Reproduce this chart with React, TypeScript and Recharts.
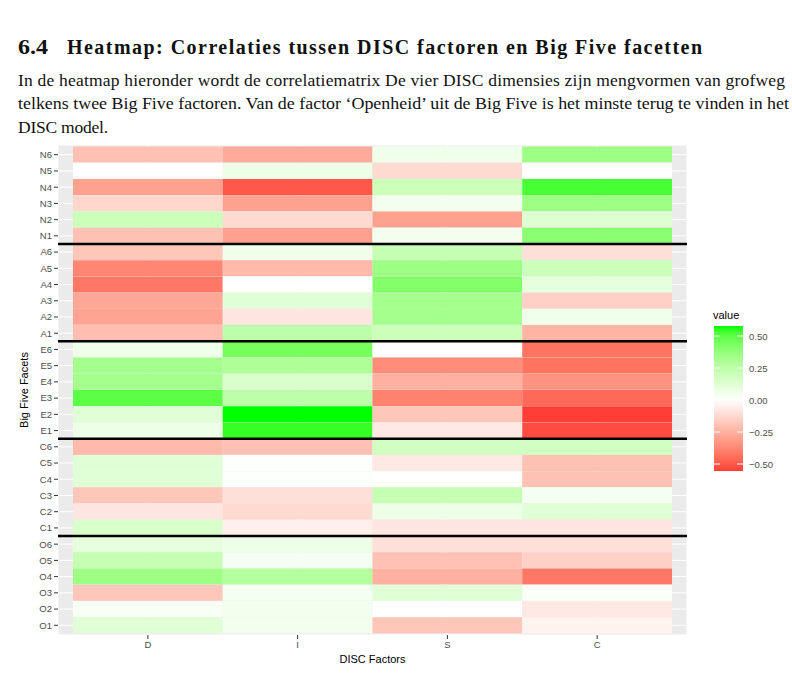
import React from "react";
import {
	BarChart,
	Bar,
	Cell,
	XAxis,
	YAxis,
	CartesianGrid,
	ReferenceLine,
} from "recharts";

// facets from top to bottom, as in the figure
const facets = [
	"N6", "N5", "N4", "N3", "N2", "N1",
	"A6", "A5", "A4", "A3", "A2", "A1",
	"E6", "E5", "E4", "E3", "E2", "E1",
	"C6", "C5", "C4", "C3", "C2", "C1",
	"O6", "O5", "O4", "O3", "O2", "O1",
];

const discFactors = ["D", "I", "S", "C"];

const dValues = [
	-0.2, 0.0, -0.3, -0.13, 0.2, -0.2,
	-0.18, -0.38, -0.42, -0.28, -0.29, -0.21,
	0.06, 0.33, 0.33, 0.5, 0.12, 0.07,
	-0.22, 0.12, 0.12, -0.18, -0.08, 0.15,
	0.1, 0.22, 0.35, -0.18, 0.03, 0.12,
];
const iValues = [
	-0.27, 0.07, -0.5, -0.3, -0.12, -0.3,
	0.06, -0.22, 0.0, 0.12, -0.08, 0.25,
	0.45, 0.3, 0.15, 0.25, 0.578, 0.55,
	-0.2, 0.01, 0.01, -0.1, -0.12, -0.05,
	0.07, 0.04, 0.28, 0.04, 0.05, 0.05,
];
const sValues = [
	0.06, -0.12, 0.2, 0.05, -0.3, 0.05,
	0.22, 0.35, 0.42, 0.33, 0.33, 0.2,
	0.0, -0.36, -0.25, -0.39, -0.18, -0.07,
	0.18, -0.07, 0.0, 0.22, 0.07, -0.08,
	-0.1, -0.2, -0.25, 0.12, 0.0, -0.18,
];
const cValues = [
	0.35, 0.0, 0.53, 0.35, 0.13, 0.4,
	-0.1, 0.2, 0.1, -0.15, 0.06, -0.24,
	-0.43, -0.43, -0.34, -0.46, -0.555, -0.53,
	0.18, -0.2, -0.2, 0.04, 0.12, -0.08,
	-0.1, -0.15, -0.42, 0.02, -0.07, -0.04,
];

const legendTicks = [0.5, 0.25, 0, -0.25, -0.5];
const separatorFacets = ["A6", "E6", "C6", "O6"];

const valuesByFactor: Record<string, number[]> = {
	D: dValues,
	I: iValues,
	S: sValues,
	C: cValues,
};

// ---- colour scale: red / white / green, interpolated in Lab (gradient2 style)
const allValues = [...dValues, ...iValues, ...sValues, ...cValues];
const vMax = Math.max(...allValues);
const vMin = Math.min(...allValues);
const vLimit = Math.max(Math.abs(vMax), Math.abs(vMin));

const toLab = (hex: string) => {
	const c = [1, 3, 5].map((i) => parseInt(hex.slice(i, i + 2), 16) / 255);
	const [r, g, b] = c.map((v) =>
		v <= 0.04045 ? v / 12.92 : Math.pow((v + 0.055) / 1.055, 2.4)
	);
	const x = (0.4124564 * r + 0.3575761 * g + 0.1804375 * b) / 0.95047;
	const y = 0.2126729 * r + 0.7151522 * g + 0.072175 * b;
	const z = (0.0193339 * r + 0.119192 * g + 0.9503041 * b) / 1.08883;
	const f = (t: number) => (t > 0.008856 ? Math.cbrt(t) : 7.787 * t + 16 / 116);
	return [116 * f(y) - 16, 500 * (f(x) - f(y)), 200 * (f(y) - f(z))];
};

const fromLab = ([L, a, bb]: number[]) => {
	const fy = (L + 16) / 116;
	const fx = fy + a / 500;
	const fz = fy - bb / 200;
	const inv = (f: number) => (f ** 3 > 0.008856 ? f ** 3 : (f - 16 / 116) / 7.787);
	const x = inv(fx) * 0.95047;
	const y = inv(fy);
	const z = inv(fz) * 1.08883;
	const lin = [
		3.2404542 * x - 1.5371385 * y - 0.4985314 * z,
		-0.969266 * x + 1.8760108 * y + 0.041556 * z,
		0.0556434 * x - 0.2040259 * y + 1.0572252 * z,
	];
	const hex = lin
		.map((v) => {
			const s = v <= 0.0031308 ? 12.92 * v : 1.055 * Math.pow(Math.max(v, 0), 1 / 2.4) - 0.055;
			const n = Math.round(Math.min(1, Math.max(0, s)) * 255);
			return n.toString(16).padStart(2, "0");
		})
		.join("");
	return "#" + hex;
};

const LAB_WHITE = toLab("#FFFFFF");
const LAB_RED = toLab("#FF3030");
const LAB_GREEN = toLab("#00FF00");

const fillFor = (v: number) => {
	const t = Math.min(1, Math.abs(v) / vLimit);
	const end = v >= 0 ? LAB_GREEN : LAB_RED;
	return fromLab(LAB_WHITE.map((w, i) => w + (end[i] - w) * t));
};

const rows = facets.map((facet, k) => ({
	facet,
	span: 1,
	D: dValues[k],
	I: iValues[k],
	S: sValues[k],
	C: cValues[k],
}));

const axisFont = "'Liberation Sans', Arial, sans-serif";
const serif = "'Liberation Serif', 'Times New Roman', serif";

// legend geometry
const pxPerUnit = 128;
const zeroY = 400;

const Legend: React.FC = () => {
	const stops = Array.from({ length: 25 }, (_, i) => i / 24);
	return (
		<svg
			width={100}
			height={200}
			style={{ position: "absolute", left: 700, top: 300 }}
			viewBox="700 300 100 200"
		>
			<defs>
				<linearGradient id="valGrad" x1="0" y1="0" x2="0" y2="1">
					{stops.map((s) => {
						const v = vMax + (vMin - vMax) * s;
						return <stop key={s} offset={s} stopColor={fillFor(v)} />;
					})}
				</linearGradient>
			</defs>
			<text x={713} y={319} fontSize={11} fontFamily={axisFont} fill="#000">
				value
			</text>
			<rect
				x={714}
				y={zeroY - vMax * pxPerUnit}
				width={29}
				height={(vMax - vMin) * pxPerUnit}
				fill="url(#valGrad)"
			/>
			{legendTicks.map((t) => {
				const y = zeroY - t * pxPerUnit;
				return (
					<g key={t}>
						<line x1={714} x2={720} y1={y} y2={y} stroke="#fff" strokeWidth={1} />
						<line x1={737} x2={743} y1={y} y2={y} stroke="#fff" strokeWidth={1} />
						<text
							x={749}
							y={y + 3.5}
							fontSize={9.5}
							fontFamily={axisFont}
							fill="#4D4D4D"
						>
							{t === 0 ? "0.00" : t < 0 ? "\u2212" + Math.abs(t).toFixed(2) : t.toFixed(2)}
						</text>
					</g>
				);
			})}
		</svg>
	);
};

const Heading: React.FC = () => (
	<svg
		width={792}
		height={140}
		style={{ position: "absolute", left: 0, top: 0 }}
	>
		<g fontFamily={serif} fill="#111">
			<text x={18} y={54} fontSize={20} fontWeight="bold" textLength={30} lengthAdjust="spacingAndGlyphs">
				6.4
			</text>
			<text x={67} y={54} fontSize={20} fontWeight="bold" textLength={635} lengthAdjust="spacing">
				Heatmap: Correlaties tussen DISC factoren en Big Five facetten
			</text>
			<text x={18} y={86} fontSize={17.5} textLength={767} lengthAdjust="spacing">
				In de heatmap hieronder wordt de correlatiematrix De vier DISC dimensies zijn mengvormen van grofweg
			</text>
			<text x={18} y={109} fontSize={17.5} textLength={771} lengthAdjust="spacingAndGlyphs">
				telkens twee Big Five factoren. Van de factor ‘Openheid’ uit de Big Five is het minste terug te vinden in het
			</text>
			<text x={18} y={133} fontSize={17.5} textLength={90} lengthAdjust="spacing">
				DISC model.
			</text>
		</g>
	</svg>
);

const App: React.FC = () => {
	return (
		<div
			style={{
				position: "absolute",
				left: 0,
				top: 0,
				width: 792,
				height: 683,
				background: "#fff",
				overflow: "hidden",
			}}
		>
			<Heading />
			<div style={{ position: "absolute", left: 0, top: 0 }}>
				<BarChart
					width={792}
					height={683}
					data={rows}
					layout="vertical"
					margin={{ top: 145, right: 105, bottom: 8, left: 8 }}
					barCategoryGap={0}
					barGap={0}
				>
					<CartesianGrid fill="#EBEBEB" stroke="#FFFFFF" strokeWidth={1} />
					<XAxis
						type="number"
						domain={[-0.1, 4.1]}
						ticks={[0.5, 1.5, 2.5, 3.5]}
						tickFormatter={(v: number) => discFactors[Math.floor(v)]}
						allowDataOverflow
						axisLine={false}
						tickSize={4}
						tickLine={{ stroke: "#333333" }}
						tick={{ fill: "#4D4D4D", fontSize: 9.5, fontFamily: axisFont }}
						tickMargin={2}
						height={40}
						label={{
							value: "DISC Factors",
							position: "insideBottom",
							offset: 12,
							fill: "#000",
							fontSize: 11,
							fontFamily: axisFont,
						}}
					/>
					<YAxis
						type="category"
						dataKey="facet"
						width={50}
						padding={{ top: 1.6, bottom: 1.6 }}
						interval={0}
						axisLine={false}
						tickSize={4}
						tickLine={{ stroke: "#333333" }}
						tick={{ fill: "#4D4D4D", fontSize: 9.5, fontFamily: axisFont }}
						tickMargin={2}
						label={{
							value: "Big Five Facets",
							angle: -90,
							position: "insideLeft",
							offset: 16,
							fill: "#000",
							fontSize: 11,
							fontFamily: axisFont,
							style: { textAnchor: "middle" },
						}}
					/>
					{discFactors.map((f) => (
						<Bar
							key={f}
							dataKey="span"
							stackId="tiles"
							isAnimationActive={false}
						>
							{rows.map((r, k) => (
								<Cell key={r.facet} fill={fillFor(valuesByFactor[f][k])} />
							))}
						</Bar>
					))}
					{separatorFacets.map((f) => (
						<ReferenceLine
							key={f}
							y={f}
							position="start"
							stroke="#000"
							strokeWidth={2.5}
						/>
					))}
				</BarChart>
			</div>
			<Legend />
		</div>
	);
};

export default App;
